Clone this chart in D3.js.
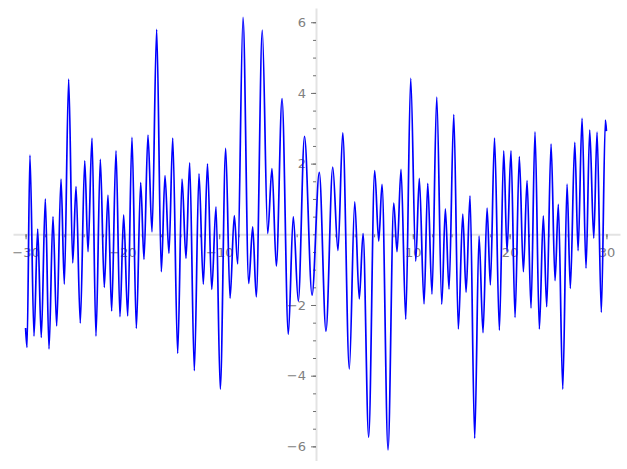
<!DOCTYPE html>
<html lang="en">
<head>
<meta charset="UTF-8">
<title>Plot</title>
<script src="https://d3js.org/d3.v7.min.js"></script>
<style>
    body { margin: 0; background: #fff; }
    .tick text { font-family: "DejaVu Sans", sans-serif; font-size: 13px; fill: #808080; }
    .tick line { stroke: #707070; }
    .domain { stroke: #e3e3e3; stroke-width: 2; }
</style>
</head>
<body>
<svg width="627" height="469"></svg>
<script>
    // curve: local extrema, left to right
    var xs = [-30.0, -29.85, -29.55, -29.13, -28.75, -28.38, -27.96, -27.58, -27.17, -26.79,
        -26.34, -26.0, -25.55, -25.13, -24.79, -24.35, -23.89, -23.55, -23.14, -22.73,
        -22.28, -21.87, -21.49, -21.11, -20.66, -20.25, -19.87, -19.45, -19.01, -18.56,
        -18.11, -17.77, -17.36, -16.94, -16.46, -15.98, -15.60, -15.19, -14.80, -14.29,
        -13.84, -13.43, -13.05, -12.57, -12.09, -11.64, -11.21, -10.77, -10.33, -9.89,
        -9.33, -8.88, -8.44, -8.09, -7.54, -6.95, -6.54, -6.17, -5.55, -4.99,
        -4.55, -4.10, -3.51, -2.86, -2.35, -1.83, -1.19, -0.41, 0.34, 1.03,
        1.73, 2.27, 2.76, 3.44, 4.0, 4.47, 4.86, 5.44, 6.06, 6.48,
        6.82, 7.44, 8.03, 8.37, 8.78, 9.27, 9.78, 10.30, 10.67, 11.16,
        11.54, 11.98, 12.47, 12.99, 13.36, 13.74, 14.23, 14.70, 15.16, 15.50,
        15.91, 16.39, 16.84, 17.25, 17.67, 18.01, 18.44, 18.94, 19.39, 19.73,
        20.14, 20.56, 21.0, 21.42, 21.80, 22.21, 22.62, 23.07, 23.48, 23.83,
        24.28, 24.69, 25.03, 25.49, 25.93, 26.27, 26.73, 27.07, 27.48, 27.89,
        28.27, 28.69, 29.03, 29.47, 29.89, 30.0];
    var ys = [-2.65, -3.2, 2.24, -2.88, 0.15, -2.92, 1.0, -3.24, 0.50, -2.59,
        1.56, -1.41, 4.39, -0.81, 1.35, -2.51, 2.08, -0.49, 2.72, -2.88,
        2.12, -1.50, 1.11, -2.17, 2.36, -2.33, 0.55, -2.31, 2.74, -2.66,
        1.46, -0.71, 2.81, 0.07, 5.80, -1.06, 1.66, -0.54, 2.72, -3.37,
        1.56, -0.68, 2.02, -3.86, 1.71, -1.41, 1.99, -1.56, 0.78, -4.38,
        2.43, -1.81, 0.53, -0.84, 6.14, -1.39, 0.21, -1.77, 5.78, 0.02,
        1.86, -0.90, 3.84, -2.83, 0.50, -1.89, 2.77, -1.72, 1.75, -2.74,
        1.90, -0.46, 2.87, -3.81, 0.92, -1.83, 0.02, -5.74, 1.80, -0.19,
        1.41, -6.10, 0.88, -0.49, 1.84, -2.40, 4.41, -0.76, 1.58, -1.97,
        1.44, -1.69, 3.88, -1.98, 0.72, -1.55, 3.39, -2.68, 0.57, -1.64,
        1.09, -5.77, -0.05, -2.78, 0.74, -1.43, 2.72, -2.71, 2.36, -0.49,
        2.36, -2.35, 2.20, -1.06, 1.52, -2.09, 2.90, -2.68, 0.52, -2.05,
        2.55, -1.31, 0.85, -4.38, 1.42, -1.53, 2.60, -0.46, 3.28, -0.96,
        2.95, -0.11, 2.89, -2.21, 3.23, 2.92];

    var xMajor = [-30, -20, -10, 10, 20, 30];
    var yMajor = [-6, -4, -2, 2, 4, 6];
    var xMinor = d3.range(-30, 31, 2);
    var yMinor = d3.range(-6, 6.01, 0.5);

    var svg = d3.select("svg");

    var x = d3.scaleLinear().domain([-31.3, 31.4]).range([13, 620]),
        y = d3.scaleLinear().domain([-6.4, 6.4]).range([460.5, 8.1]);

    // x axis, crossing at y = 0
    svg.append("g")
        .attr("transform", "translate(0," + y(0) + ")")
        .call(d3.axisBottom(x).tickValues(xMinor).tickSize(3).tickSizeOuter(0).tickFormat(""));
    svg.append("g")
        .attr("transform", "translate(0," + y(0) + ")")
        .call(d3.axisBottom(x).tickValues(xMajor).tickSize(5).tickSizeOuter(0).tickPadding(8))
        .select(".domain").remove();

    // y axis, crossing at x = 0
    svg.append("g")
        .attr("transform", "translate(" + x(0) + ",0)")
        .call(d3.axisLeft(y).tickValues(yMinor).tickSize(3).tickSizeOuter(0).tickFormat(""));
    svg.append("g")
        .attr("transform", "translate(" + x(0) + ",0)")
        .call(d3.axisLeft(y).tickValues(yMajor).tickSize(5).tickSizeOuter(0).tickPadding(5))
        .select(".domain").remove();

    var line = d3.line()
        .x(function(d, i) { return x(xs[i]); })
        .y(function(d, i) { return y(ys[i]); })
        .curve(d3.curveMonotoneX);

    svg.append("path")
        .datum(xs)
        .attr("fill", "none")
        .attr("stroke", "#0000ff")
        .attr("stroke-width", 1.7)
        .attr("d", line);
</script>
</body>
</html>
